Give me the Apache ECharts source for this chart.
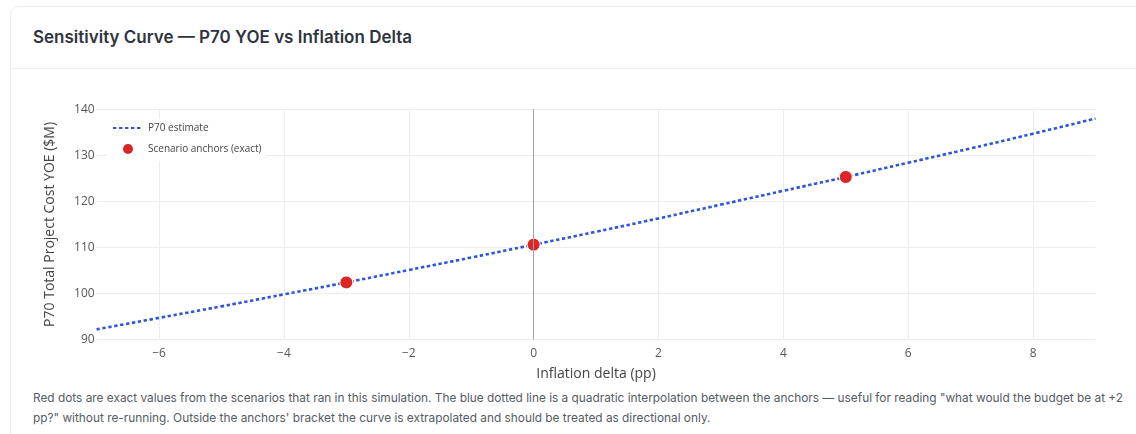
<!DOCTYPE html>
<html>
<head>
<meta charset="utf-8">
<script src="https://cdn.jsdelivr.net/npm/echarts@6/dist/echarts.min.js"></script>
<style>
  html, body { margin: 0; padding: 0; background: #ffffff; }
  body { width: 1136px; height: 434px; position: relative; overflow: hidden; font-family: Inter, "Noto Sans", sans-serif; }
  .card {
    position: absolute; left: 10px; top: 6px; width: 1150px; height: 460px;
    border: 1.5px solid #ececec; border-radius: 9px; box-sizing: border-box; background: #fff;
  }
  .card-head {
    position: absolute; left: 0; right: 0; top: 0; height: 61px;
    border-bottom: 1px solid #efefef;
  }
  .card-title {
    position: absolute; left: 22px; top: 20px; margin: 0;
    font-size: 17px; font-weight: 600; color: #2f3440; letter-spacing: 0;
  }
  .caption {
    position: absolute; left: 33px; top: 389px; font-size: 11.85px; line-height: 19.5px; color: #555b63;
  }
  .caption span { display: block; white-space: nowrap; }
  #chart { position: absolute; left: 0; top: 0; width: 1136px; height: 434px; }
</style>
</head>
<body>
<div class="card">
  <div class="card-head"><h3 class="card-title">Sensitivity Curve — P70 YOE vs Inflation Delta</h3></div>
</div>
<div class="caption">
  <span>Red dots are exact values from the scenarios that ran in this simulation. The blue dotted line is a quadratic interpolation between the anchors — useful for reading "what would the budget be at +2</span>
  <span>pp?" without re-running. Outside the anchors' bracket the curve is extrapolated and should be treated as directional only.</span>
</div>
<div id="chart"></div>
<script>
// Interpolated P70 estimate across the inflation delta range (pp -> $M)
const inflationDelta = [-7, -6, -5, -4, -3, -2, -1, 0, 1, 2, 3, 4, 5, 6, 7, 8, 9];
const p70Estimate = [92.2, 94.7, 97.2, 99.8, 102.4, 105.1, 107.8, 110.6, 113.4, 116.3, 119.3, 122.3, 125.3, 128.4, 131.5, 134.7, 138.0];

// Scenario runs (exact values)
const anchorDelta = [-3, 0, 5];
const anchorValues = [102.4, 110.6, 125.3];

// Axis ticks
const xTicks = [-6, -4, -2, 0, 2, 4, 6, 8];
const yTicks = [90, 100, 110, 120, 130, 140];

const estimateData = inflationDelta.map((x, i) => [x, p70Estimate[i]]);
const anchorData = anchorDelta.map((x, i) => [x, anchorValues[i]]);

const fmtNum = v => (v < 0 ? '\u2212' + Math.abs(v) : String(v));
const chartFont = '"Open Sans", "Noto Sans", sans-serif';

const chart = echarts.init(document.getElementById('chart'), null, { renderer: 'canvas' });
chart.setOption({
  animation: false,
  backgroundColor: 'transparent',
  textStyle: { fontFamily: chartFont },
  grid: { left: 96.6, right: 40.5, top: 109.3, bottom: 94.5, containLabel: false },
  legend: {
    orient: 'vertical',
    left: 107, top: 119,
    padding: [4, 5, 5, 5],
    backgroundColor: '#ffffff',
    itemWidth: 30, itemHeight: 12, itemGap: 9,
    textStyle: { fontFamily: chartFont, fontSize: 10, color: '#444' },
    data: [
      // line-only key: hide the marker ECharts adds to line legends
      { name: 'P70 estimate', itemStyle: { color: 'rgba(0,0,0,0)', borderWidth: 0 } },
      { name: 'Scenario anchors (exact)', icon: 'circle' }
    ]
  },
  xAxis: {
    type: 'value', min: -7, max: 9,
    name: 'Inflation delta (pp)', nameLocation: 'middle', nameGap: 28,
    nameTextStyle: { fontFamily: chartFont, fontSize: 14, color: '#444' },
    axisLine: { show: false },
    axisTick: { show: false, customValues: xTicks },
    axisLabel: { customValues: xTicks, formatter: fmtNum, fontSize: 12, color: '#555', margin: 8 },
    splitLine: { show: true, lineStyle: { color: '#ececec', width: 1 } }
  },
  yAxis: {
    type: 'value', min: 90, max: 140, interval: 10,
    name: 'P70 Total Project Cost YOE ($M)', nameLocation: 'middle', nameGap: 40, nameRotate: 90,
    nameTextStyle: { fontFamily: chartFont, fontSize: 14, color: '#444' },
    axisLine: { show: false },
    axisTick: { show: false },
    axisLabel: { fontSize: 12, color: '#555', margin: 2 },
    splitLine: { show: true, lineStyle: { color: '#ececec', width: 1 } }
  },
  series: [
    {
      name: 'P70 estimate',
      type: 'line',
      data: estimateData,
      symbol: 'none',
      smooth: true,
      z: 2,
      lineStyle: { color: '#2f55d9', width: 2.6, type: [3.4, 2.6], cap: 'butt' },
      itemStyle: { color: '#2f55d9' },
      markLine: {
        silent: true, symbol: 'none', label: { show: false },
        lineStyle: { color: '#a3a3a3', width: 1, type: 'solid' },
        data: [{ xAxis: 0 }]
      }
    },
    {
      name: 'Scenario anchors (exact)',
      type: 'scatter',
      data: anchorData,
      symbol: 'circle',
      symbolSize: 13,
      z: 3,
      itemStyle: { color: '#dc2626', borderColor: '#ffffff', borderWidth: 1, opacity: 1 }
    }
  ]
});
</script>
</body>
</html>
